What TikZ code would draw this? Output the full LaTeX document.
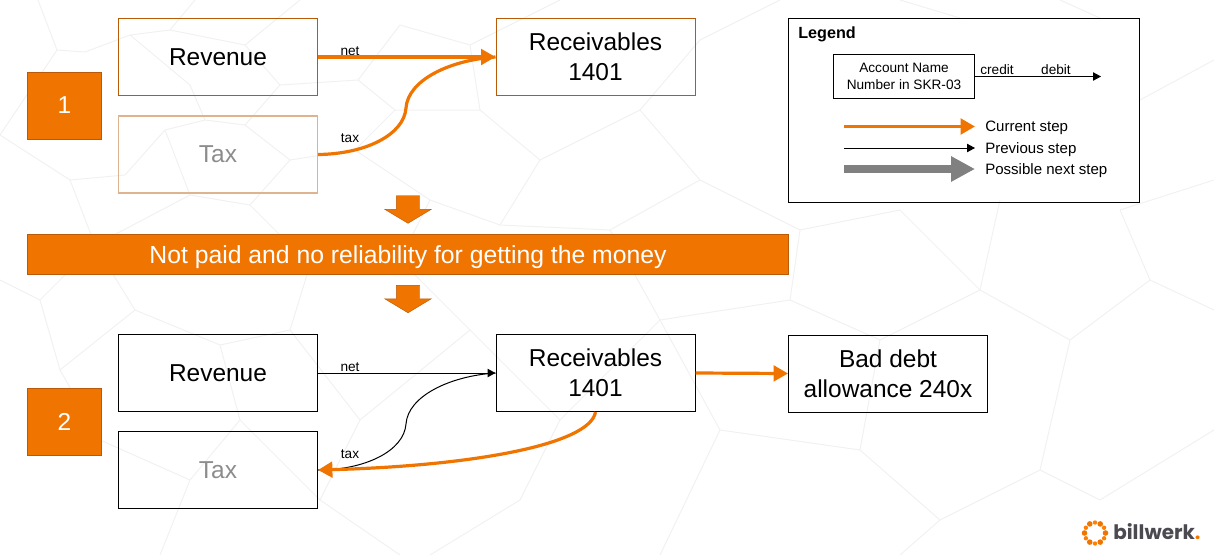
\documentclass[tikz,border=0pt]{standalone}
\usepackage{fontspec}
\setmainfont{Liberation Sans}
\newfontfamily\logofont{Poppins}
\usetikzlibrary{arrows.meta,shapes.arrows}
\definecolor{stepcolor}{HTML}{F07400}
\definecolor{stepedge}{HTML}{B85A08}
\definecolor{paleedge}{HTML}{DDB48F}
\definecolor{webcolor}{HTML}{F1F1F1}
\definecolor{logoink}{HTML}{4A4A50}
\newcommand*{\bigtext}{\fontsize{17.4}{21}\selectfont}
\newcommand*{\midtext}{\fontsize{10.7}{12}\selectfont}
\newcommand*{\smalltext}{\fontsize{9.7}{12.1}\selectfont}
\tikzset{
  account/.style={draw=black, line width=.25mm, minimum width=49.75mm, minimum height=19.25mm,
    align=center, inner sep=0pt, font=\bigtext},
  accountnow/.style={account, draw=stepedge},
  accountpale/.style={account, draw=paleedge, line width=.35mm, text=black!45},
  stepbox/.style={draw=stepedge, fill=stepcolor, text=white, line width=.2mm, minimum width=18.5mm,
    minimum height=16.7mm, inner sep=0pt, font=\bigtext},
  downarrow/.style={single arrow, rotate=270, draw=stepedge, fill=stepcolor, line width=.1mm,
    text height=5.75mm, text depth=0pt, minimum width=11.5mm, minimum height=6.9mm,
    single arrow head extend=2.9mm, single arrow tip angle=118, inner sep=0pt},
  current/.style={draw=stepcolor, line width=.8mm, -{Triangle[length=3.6mm,width=3.9mm]}},
  previous/.style={draw=black, line width=.25mm, -{Triangle[length=2mm,width=2.1mm]}},
  nextstep/.style={draw=black!50, line width=2mm, -{Triangle[length=6mm,width=6mm]}},
  edgelabel/.style={inner sep=0pt, font=\smalltext},
  legendlabel/.style={anchor=west, inner sep=0pt, font=\midtext},
}
\begin{document}
\begin{tikzpicture}[x=.25mm, y=-.25mm]
    \useasboundingbox (0, 0) rectangle (1214, 555);
    % background net
    \begin{scope}[webcolor, line width=.25mm]
      \foreach \webline in {
        {(38,0)--(57,50)--(85,52)--(130,35)--(170,30)--(245,45)--(280,85)--(245,125)--(205,120)--(190,85)--(130,35)},
        {(0,135)--(57,50)},{(205,120)--(165,130)--(125,175)--(70,180)--(0,135)},
        {(245,125)--(290,160)--(250,205)--(190,195)--(165,130)},{(280,85)--(358,80)--(395,110)--(355,150)--(290,160)},
        {(170,30)--(195,0)},{(245,45)--(300,0)},{(358,80)--(400,25)--(470,45)--(480,110)--(395,110)},
        {(355,150)--(430,200)--(400,260)--(310,265)--(250,205)},{(480,110)--(540,160)--(500,225)--(430,200)},
        {(70,180)--(95,245)--(40,300)--(0,280)},{(95,245)--(190,195)},{(95,245)--(135,310)--(60,370)--(40,300)},
        {(310,265)--(290,330)--(220,345)--(135,310)},{(220,345)--(240,420)--(190,480)--(100,440)--(60,370)},
        {(290,330)--(360,420)--(320,500)--(240,420)},{(400,260)--(470,330)--(360,420)},{(190,480)--(160,555)},
        {(320,500)--(400,555)},{(470,330)--(560,420)--(520,500)--(430,555)},{(500,225)--(610,230)--(660,320)--(560,420)},
        {(540,160)--(640,110)--(700,180)--(610,230)},{(470,45)--(560,0)},{(640,110)--(700,40)--(780,0)},
        {(700,180)--(800,230)--(790,300)--(660,320)},{(800,230)--(900,210)--(980,290)--(880,340)--(790,300)},
        {(1000,200)--(980,290)--(1070,340)--(1150,280)--(1120,210)},{(1150,280)--(1214,310)},
        {(880,340)--(860,450)--(940,520)--(1040,470)--(1070,340)},{(660,320)--(720,430)--(860,450)},
        {(720,430)--(660,555)},{(1040,470)--(1100,500)--(1214,430)},{(940,520)--(900,555)},
        {(1140,100)--(1214,60)},{(1120,210)--(1214,180)},{(900,0)--(960,18)},{(1060,0)--(1100,18)}
      }{
        \draw \webline;
      }
    \end{scope}
    % first step
    \node[stepbox] (stepone) at (64.5, 105.5) {1};
    \node[accountnow] (revone) at (218, 57) {Revenue};
    \node[accountpale] (taxone) at (218, 154.5) {Tax};
    \node[accountnow] (recvone) at (595.5, 57) {Receivables\\1401};
    \node[edgelabel] (netone) at (350, 51) {net};
    \node[edgelabel] (taxlabelone) at (350, 138) {tax};
    \coordinate (bendone) at (406, 108);
    \begin{scope}[current]
      \draw[-] (taxone.east) .. controls (365, 154) and (404, 135) .. (bendone) .. controls (408, 80) and (450, 60) .. (recvone.west);
      \draw (revone.east) -- (recvone.west);
    \end{scope}
    % change of state
    \node[downarrow] (downone) at (408, 206) {};
    \node[draw=stepedge, fill=stepcolor, text=white, line width=.2mm, minimum width=190.25mm, minimum height=10mm,
      inner sep=0pt, text height=5.2mm, text depth=.5mm, font=\fontsize{17.6}{21}\selectfont] (notpaid) at (408, 254.5)
      {Not paid and no reliability for getting the money};
    \node[downarrow] (downtwo) at (408, 295.5) {};
    % second step
    \node[stepbox] (steptwo) at (64.5, 421.5) {2};
    \node[account] (revtwo) at (218, 373) {Revenue};
    \node[account, text=black!45] (taxtwo) at (218, 470) {Tax};
    \node[account] (recvtwo) at (595.5, 373) {Receivables\\1401};
    \node[account] (baddebt) at (888, 373.5) {Bad debt\\allowance 240x};
    \node[edgelabel] (nettwo) at (350, 367) {net};
    \node[edgelabel] (taxlabeltwo) at (350, 454) {tax};
    \coordinate (bendtwo) at (406, 424);
    \draw[black, line width=.25mm] (taxtwo.east) .. controls (365, 470) and (404, 451) .. (bendtwo) .. controls (408, 396) and (450, 376) .. (recvtwo.west);
    \draw[previous] (revtwo.east) -- (recvtwo.west);
    \begin{scope}[current]
      \draw (recvtwo.east) -- (baddebt.west);
      \draw (recvtwo.south) .. controls (590, 445) and (470, 466) .. (taxtwo.east);
    \end{scope}
    % legend
    \node[draw=black, line width=.25mm, minimum width=87.75mm, minimum height=46mm] (legend) at (964, 110.5) {};
    \node[anchor=west, inner sep=0pt, font=\fontsize{11.5}{13}\selectfont\bfseries] (legendtitle) at (798, 34) {Legend};
    \node[draw=black, line width=.25mm, minimum width=35.25mm, minimum height=11mm, align=center, inner sep=0pt,
      font=\smalltext] (accountname) at (904, 76.5) {Account Name\\Number in SKR-03};
    \node[edgelabel] (credit) at (997, 70) {credit};
    \node[edgelabel] (debit) at (1056, 70) {debit};
    \coordinate (accountend) at (1101, 76.5);
    \coordinate (currentstart) at (844, 126.5);
    \coordinate (previousstart) at (844, 148);
    \coordinate (nextstart) at (844, 169);
    \node[legendlabel] (currentlabel) at (985, 128) {Current step};
    \node[legendlabel] (previouslabel) at (985, 149.5) {Previous step};
    \node[legendlabel] (nextlabel) at (985, 171) {Possible next step};
    \draw[previous] (accountname.east) -- (accountend);
    \draw[current] (currentstart) -- (975, 126.5);
    \draw[previous] (previousstart) -- (975, 148);
    \draw[nextstep] (nextstart) -- (975, 169);
    % logo
    \coordinate (logocenter) at (1095, 533);
    \foreach \angle/\shade/\size in {0/stepcolor/.7, 30/orange/.55, 60/stepcolor/.7, 90/orange/.55, 120/stepcolor/.7, 150/orange/.55,
      180/stepcolor/.7, 210/orange/.55, 240/stepcolor/.7, 270/orange/.55, 300/stepcolor/.7, 330/orange/.55}{
      \fill[\shade] (logocenter) ++(\angle:10.5) circle[radius=\size mm];
    }
    \node[anchor=west, inner sep=0pt, text=logoink, font=\logofont\bfseries\fontsize{14.2}{18}\selectfont] (logotext) at (1113, 532) {billwerk\textcolor{stepcolor}{.}};
  \end{tikzpicture}
\end{document}
